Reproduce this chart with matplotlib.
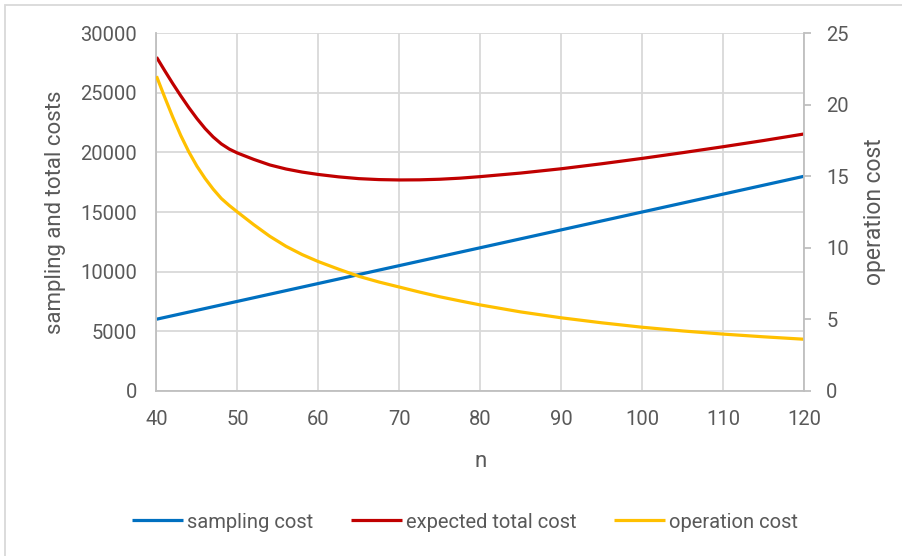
import matplotlib.pyplot as plt
from matplotlib.patches import Rectangle

# values
n_sampling = [40, 60, 80, 100, 120]
sampling_cost = [6000, 9000, 12000, 15000, 18000]

n_curve = [40, 41, 42, 43, 44, 45, 46, 47, 48, 49, 50, 52, 54, 56, 58, 60,
           62.5, 65, 67.5, 70, 72.5, 75, 77.5, 80, 85, 90, 95, 100, 105, 110, 115, 120]
total_cost = [28000, 26880, 25790, 24750, 23760, 22840, 22010, 21300, 20720, 20280,
              19950, 19420, 18950, 18610, 18350, 18150, 17950, 17800, 17720, 17690,
              17700, 17750, 17840, 17970, 18270, 18630, 19050, 19500, 19980, 20480,
              21000, 21550]
operation_cost = [22.0, 20.55, 19.15, 17.85, 16.7, 15.7, 14.85, 14.1, 13.45, 12.95,
                  12.5, 11.62, 10.8, 10.1, 9.52, 9.03, 8.5, 8.0, 7.6, 7.25,
                  6.9, 6.57, 6.28, 6.0, 5.51, 5.1, 4.75, 4.44, 4.18, 3.96, 3.77, 3.6]

x_ticks = [40, 50, 60, 70, 80, 90, 100, 110, 120]
left_ticks = [0, 5000, 10000, 15000, 20000, 25000, 30000]
right_ticks = [0, 5, 10, 15, 20, 25]

BLUE = '#0070C0'
RED = '#C00000'
YELLOW = '#FFC000'
TXT = '#595959'
GRID = '#d9d9d9'
AXIS = '#bfbfbf'

plt.rcParams['font.family'] = ['Roboto', 'DejaVu Sans']

fig = plt.figure(figsize=(9.02, 5.56), dpi=100)
ax = fig.add_axes([0.1735, 0.2973, 0.7179, 0.6428])
ax2 = ax.twinx()

# outer chart border
fig.patches.append(Rectangle((5 / 902, -0.1), 1.2, 1 - 5 / 556 + 0.1,
                             transform=fig.transFigure, fill=False,
                             edgecolor=GRID, linewidth=1.3))

l1, = ax.plot(n_sampling, sampling_cost, color=BLUE, lw=2.3, solid_capstyle='butt')
l2, = ax.plot(n_curve, total_cost, color=RED, lw=2.3, solid_capstyle='butt',
              solid_joinstyle='round')
l3, = ax2.plot(n_curve, operation_cost, color=YELLOW, lw=2.3, solid_capstyle='butt',
               solid_joinstyle='round')

ax.set_xlim(40, 120)
ax.set_ylim(0, 30000)
ax2.set_ylim(0, 25)
ax.set_xticks(x_ticks)
ax.set_yticks(left_ticks)
ax2.set_yticks(right_ticks)

ax.grid(True, color=GRID, lw=1.3)
ax.set_axisbelow(True)

for s in ['top', 'right']:
    ax.spines[s].set_visible(False)
for s in ['left', 'bottom']:
    ax.spines[s].set_color(AXIS)
    ax.spines[s].set_linewidth(1.3)
for s in ['top', 'left', 'bottom']:
    ax2.spines[s].set_visible(False)
ax2.spines['right'].set_color(AXIS)
ax2.spines['right'].set_linewidth(1.3)

ax.tick_params(axis='x', length=0, pad=14, labelsize=14.5, labelcolor=TXT)
ax.tick_params(axis='y', length=0, pad=14, labelsize=14.5, labelcolor=TXT)
ax2.tick_params(axis='y', length=5, width=1.3, color=AXIS, pad=11,
                labelsize=14.5, labelcolor=TXT)

ax.set_xlabel('n', fontsize=16, color=TXT, labelpad=16)
ax.set_ylabel('sampling and total costs', fontsize=16, color=TXT, labelpad=10)
ax2.set_ylabel('operation cost', fontsize=16.5, color=TXT, labelpad=10)

fig.legend([l1, l2, l3], ['sampling cost', 'expected total cost', 'operation cost'],
           loc='center', bbox_to_anchor=(465 / 902, 1 - 522 / 556), ncol=3,
           frameon=False, handlelength=2.5, handletextpad=0.2, columnspacing=1.9,
           prop={'size': 14.5}, labelcolor=TXT)

fig.savefig('out.png', dpi=100)
